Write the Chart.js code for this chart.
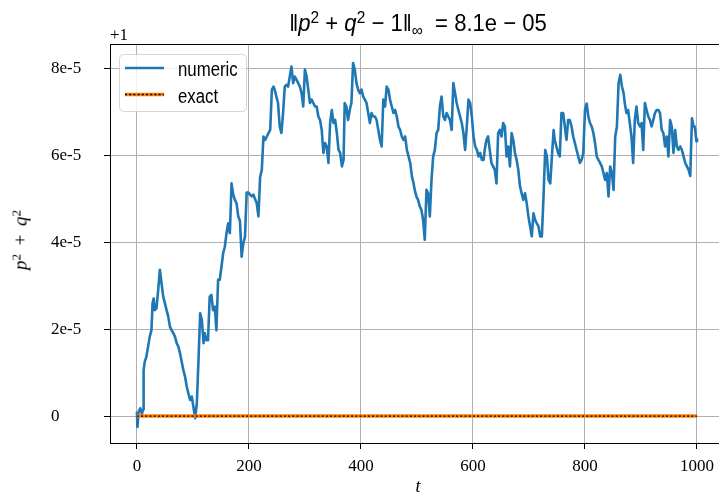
<!DOCTYPE html>
<html>
<head>
<meta charset="utf-8">
<script src="https://cdn.jsdelivr.net/npm/chart.js@4"></script>
<style>
html, body { margin: 0; padding: 0; overflow: hidden; background: #fff; }
#wrap { position: relative; width: 730px; height: 494px; }
.lbl { position: absolute; white-space: nowrap; color: #000; }
.lbl sup, .lbl sub { font-size: 70%; line-height: 0; vertical-align: baseline; position: relative; }
.lbl sup { top: -0.45em; }
.lbl sub { top: 0.3em; }
#title { font-family: "Liberation Sans", sans-serif; font-size: 24px; line-height: 24px; left: 418px; top: 11px; transform: translateX(-50%) scaleX(0.92); }
#ylabel { font-family: "Liberation Serif", serif; font-size: 19px; line-height: 19px; left: 20px; top: 240px; transform: translate(-50%, -50%) rotate(-90deg); }
#offset { font-family: "Liberation Serif", serif; font-size: 17px; line-height: 17px; left: 110px; top: 26px; }
#xlabel { font-family: "Liberation Serif", serif; font-style: italic; font-size: 18px; line-height: 18px; left: 418px; top: 477px; transform: translateX(-50%); }
</style>
</head>
<body>
<div id="wrap">
  <canvas id="chart" width="730" height="494"></canvas>
  <div class="lbl" id="title">‖<i>p</i><sup>2</sup> + <i>q</i><sup>2</sup> − 1‖<sub>∞</sub>&nbsp; = 8.1e − 05</div>
  <div class="lbl" id="ylabel"><i>p</i><sup>2</sup> &thinsp;+&thinsp; <i>q</i><sup>2</sup></div>
  <div class="lbl" id="offset">+1</div>
  <div class="lbl" id="xlabel">t</div>
</div>
<script>
// time steps and deviation of p^2 + q^2 from 1, in units of 1e-5
const steps = [
    0, 1, 3, 6, 9, 11, 12, 14, 17, 20,
    23, 26, 28, 30, 32, 35, 38, 41, 44, 47,
    50, 53, 56, 59, 62, 65, 68, 71, 74, 77,
    80, 83, 86, 89, 92, 95, 98, 101, 104, 107,
    110, 113, 116, 119, 121, 124, 127, 130, 133, 136,
    139, 142, 145, 148, 151, 154, 157, 160, 163, 166,
    169, 172, 175, 178, 181, 184, 187, 190, 193, 196,
    199, 202, 205, 208, 211, 214, 217, 220, 223, 226,
    229, 232, 235, 238, 241, 244, 246, 249, 252, 255,
    258, 261, 264, 267, 270,
    273, 276, 279, 282, 285, 288, 291, 294, 297, 300,
    303, 306, 309, 312, 315, 318, 321, 324, 327, 330,
    333, 336, 339, 342, 345, 348, 351, 354, 357, 360,
    363, 366, 369, 371, 374, 377, 380, 383, 386, 389,
    392, 395, 398, 401, 404, 407, 410, 413, 416, 419,
    422, 425, 428, 431, 434, 437, 440, 443, 446, 449,
    452, 455, 458, 461, 464, 467, 470, 473, 476, 479,
    482, 485, 488, 491, 494, 496, 499, 502, 505, 508,
    511, 514, 517, 520, 523, 526, 529, 532, 535, 538,
    541, 544, 547, 550, 553, 556, 559, 562, 565, 568,
    571, 574, 577, 580, 583, 586, 589, 592, 595, 598,
    601, 604, 607, 610, 613, 616, 619, 621, 624, 627,
    630, 633, 636, 639, 642, 645,
    648, 651, 654, 657, 660, 663, 666, 669, 672, 675,
    678, 681, 684, 687, 690, 693, 696, 699, 702, 705,
    708, 711, 714, 717, 720, 723, 726, 729, 732, 735,
    738, 741, 744, 746, 749, 752, 755, 758, 761, 764,
    767, 770, 773, 776, 779, 782, 785, 788, 791, 794,
    797, 800, 803, 806, 809, 812, 815, 818, 821, 824,
    827, 830, 833, 836, 839, 842, 845, 848, 851, 854,
    857, 860, 863, 866, 869, 871, 874, 877, 880, 883,
    886, 889, 892, 895, 898, 901, 904, 907, 910, 913,
    916, 919, 922, 925, 928, 931, 934, 937, 940, 943,
    946, 949, 952, 955, 958, 961, 964, 967, 970, 973,
    976, 979, 982, 985, 988, 991, 994, 996, 999, 1000
];
const numericDev = [
    0.1, -0.25, 0.1, 0.18, 0.05, 0.15, 1.06, 1.25, 1.37, 1.6,
    1.83, 1.98, 2.6, 2.71, 2.44, 2.48, 2.9, 3.37, 3.06, 2.75,
    2.6, 2.44, 2.29, 2.06, 1.98, 1.91, 1.83, 1.68, 1.6, 1.45,
    1.25, 1.06, 0.91, 0.68, 0.52, 0.37, 0.45, 0.21, -0.05, 0.29,
    1.29, 2.37, 2.21, 1.68, 1.91, 1.75, 1.75, 2.75, 2.79, 2.44,
    2.52, 1.98, 3.14, 3.14, 3.44, 3.75, 3.9, 4.21, 4.44, 4.21,
    5.36, 5.1, 4.98, 4.9, 4.6, 4.5, 3.67, 3.98, 4.13, 5.15,
    5.15, 5.1, 5.06, 5.1, 5.0, 4.9, 4.6, 5.5, 5.67, 6.44,
    6.36, 6.44, 6.52, 6.59, 7.52, 7.59, 7.52, 7.36, 7.21, 6.67,
    6.52, 6.98, 7.59, 7.63, 7.59,
    7.82, 8.05, 7.67, 7.82, 7.75, 7.67, 7.59, 7.44, 7.13, 7.98,
    7.82, 7.52, 7.21, 7.29, 7.21, 7.13, 7.13, 6.9, 6.82, 6.59,
    6.06, 6.29, 6.21, 5.83, 6.75, 7.05, 6.75, 6.82, 6.52, 6.13,
    6.06, 5.75, 5.9, 7.21, 7.13, 6.82, 7.05, 7.21, 8.13, 7.98,
    7.67, 7.52, 7.44, 7.52, 7.36, 7.29, 7.21, 6.98, 6.75, 6.98,
    6.9, 6.9, 6.82, 6.59, 6.36, 6.21, 7.29, 7.13, 7.59, 7.52,
    7.29, 7.13, 6.98, 7.05, 6.9, 6.67, 6.59, 6.44, 6.36, 6.44,
    6.13, 5.98, 5.83, 5.52, 5.36, 5.21, 5.06, 4.98, 4.83, 4.75,
    4.52, 4.06, 5.21, 5.13, 4.6, 5.44, 5.98, 6.13, 6.52, 6.59,
    7.13, 7.36, 6.9, 6.82, 6.98, 6.9, 6.82, 6.59, 7.67, 7.44,
    7.21, 7.05, 6.9, 6.75, 6.52, 6.13, 6.67, 7.29, 7.21, 6.9,
    6.44, 6.21, 6.13, 5.98, 6.06, 5.9, 5.9, 6.13, 6.36, 6.44,
    6.13, 5.83, 5.75, 5.67, 5.36, 6.52,
    6.59, 6.44, 6.75, 6.67, 5.98, 6.21, 5.75, 6.52, 6.36, 6.06,
    5.9, 5.67, 5.29, 5.13, 4.98, 5.13, 4.9, 4.6, 4.37, 4.14,
    4.67, 4.52, 4.44, 4.37, 4.14, 4.14, 5.06, 6.13, 5.98, 5.44,
    5.36, 5.98, 6.59, 6.36, 6.21, 6.06, 5.98, 6.98, 6.98, 6.67,
    6.36, 6.82, 6.82, 6.67, 6.44, 6.29, 6.13, 5.98, 5.83, 5.9,
    6.06, 7.05, 7.2, 6.9, 6.75, 6.67, 6.52, 6.29, 5.98, 5.9,
    5.83, 5.75, 5.6, 5.44, 5.6, 5.06, 5.75, 5.6, 5.21, 6.44,
    6.67, 7.67, 7.86, 7.59, 7.44, 7.21, 6.98, 7.05, 6.75, 6.44,
    5.83, 6.82, 7.13, 6.75, 6.67, 6.75, 6.13, 7.21, 7.05, 6.9,
    6.82, 6.67, 6.82, 6.98, 7.05, 7.05, 6.98, 6.59, 6.52, 6.21,
    6.44, 5.98, 6.82, 6.67, 6.06, 6.59, 6.21, 6.13, 6.21, 6.13,
    5.98, 5.83, 5.75, 5.67, 5.53, 6.86, 6.67, 6.67, 6.33, 6.4
];
const exactSteps = [0, 1000];
const exactDev = [0, 0];

const xTicks = [0, 200, 400, 600, 800, 1000];
const yTicks = [0, 2, 4, 6, 8];
const yTickLabels = ['0', '2e-5', '4e-5', '6e-5', '8e-5'];

const toPoints = (xs, ys) => xs.map((x, i) => ({ x: x, y: ys[i] }));

const tickFont = { family: 'Liberation Serif', size: 17 };
const legendFont = '20px "Liberation Sans", sans-serif';

// frame around the plot area (top spine included)
const frame = {
    id: 'frame',
    afterDatasetsDraw(chart) {
        const { ctx, chartArea: a } = chart;
        ctx.save();
        ctx.strokeStyle = '#000';
        ctx.lineWidth = 1;
        ctx.strokeRect(a.left + 0.5, a.top + 0.5, a.right - a.left, a.bottom - a.top);
        ctx.restore();
    }
};

// matplotlib-like legend in the upper left corner
const cornerLegend = {
    id: 'cornerLegend',
    afterDraw(chart) {
        const ctx = chart.ctx;
        const a = chart.chartArea;
        const ds = chart.data.datasets;
        const x0 = a.left + 9, y0 = a.top + 10;
        ctx.save();
        ctx.beginPath();
        ctx.roundRect(x0 + 0.5, y0 + 0.5, 127, 57, 4);
        ctx.fillStyle = 'rgba(255,255,255,0.8)';
        ctx.fill();
        ctx.strokeStyle = 'rgba(204,204,204,0.8)';
        ctx.lineWidth = 1;
        ctx.stroke();

        const rows = [ds[2], ds[1]];
        rows.forEach((d, i) => {
            const y = y0 + 14 + i * 26.5;
            ctx.beginPath();
            ctx.moveTo(x0 + 6, y);
            ctx.lineTo(x0 + 45, y);
            ctx.strokeStyle = d.borderColor;
            ctx.lineWidth = d.borderWidth;
            ctx.stroke();
            if (i === 1) {
                ctx.beginPath();
                ctx.setLineDash(ds[0].borderDash);
                ctx.moveTo(x0 + 6, y);
                ctx.lineTo(x0 + 45, y);
                ctx.strokeStyle = ds[0].borderColor;
                ctx.lineWidth = ds[0].borderWidth;
                ctx.stroke();
                ctx.setLineDash([]);
            }
            // narrow the label like the condensed face of the original
            ctx.save();
            ctx.translate(x0 + 59, y + 8);
            ctx.scale(0.84, 1);
            ctx.fillStyle = '#000';
            ctx.font = legendFont;
            ctx.textBaseline = 'alphabetic';
            ctx.fillText(d.label, 0, 0);
            ctx.restore();
        });
        ctx.restore();
    }
};

const chart = new Chart(document.getElementById('chart'), {
    type: 'line',
    data: {
        datasets: [{
            label: '',
            data: toPoints(exactSteps, exactDev),
            borderColor: '#000',
            borderWidth: 1.4,
            borderDash: [2, 2.2],
            order: 0
        }, {
            label: 'exact',
            data: toPoints(exactSteps, exactDev),
            borderColor: '#ff7f0e',
            borderWidth: 3.5,
            order: 1
        }, {
            label: 'numeric',
            data: toPoints(steps, numericDev),
            borderColor: '#1f77b4',
            borderWidth: 2.6,
            borderJoinStyle: 'round',
            order: 2
        }]
    },
    options: {
        responsive: false,
        animation: false,
        events: [],
        layout: { padding: { left: 51, top: 44, right: 5, bottom: 0 }, autoPadding: false },
        elements: { point: { radius: 0 }, line: { tension: 0 } },
        plugins: { legend: { display: false }, tooltip: { enabled: false } },
        scales: {
            x: {
                type: 'linear',
                min: -48,
                max: 1050,
                afterBuildTicks: s => { s.ticks = xTicks.map(v => ({ value: v })); },
                afterFit: s => { s.height = 51; },
                grid: { color: '#b0b0b0', lineWidth: 1, tickColor: '#000', tickLength: 6 },
                border: { color: '#000', width: 1 },
                ticks: { font: tickFont, color: '#000', padding: 7, maxRotation: 0, autoSkip: false, callback: v => String(v) }
            },
            y: {
                type: 'linear',
                min: -0.62,
                max: 8.57,
                afterBuildTicks: s => { s.ticks = yTicks.map(v => ({ value: v })); },
                afterFit: s => { s.width = 59; },
                grid: { color: '#b0b0b0', lineWidth: 1, tickColor: '#000', tickLength: 6 },
                border: { color: '#000', width: 1 },
                ticks: { font: tickFont, color: '#000', crossAlign: 'far', autoSkip: false, callback: (v, i) => yTickLabels[i] }
            }
        }
    },
    plugins: [frame, cornerLegend]
});
</script>
</body>
</html>
